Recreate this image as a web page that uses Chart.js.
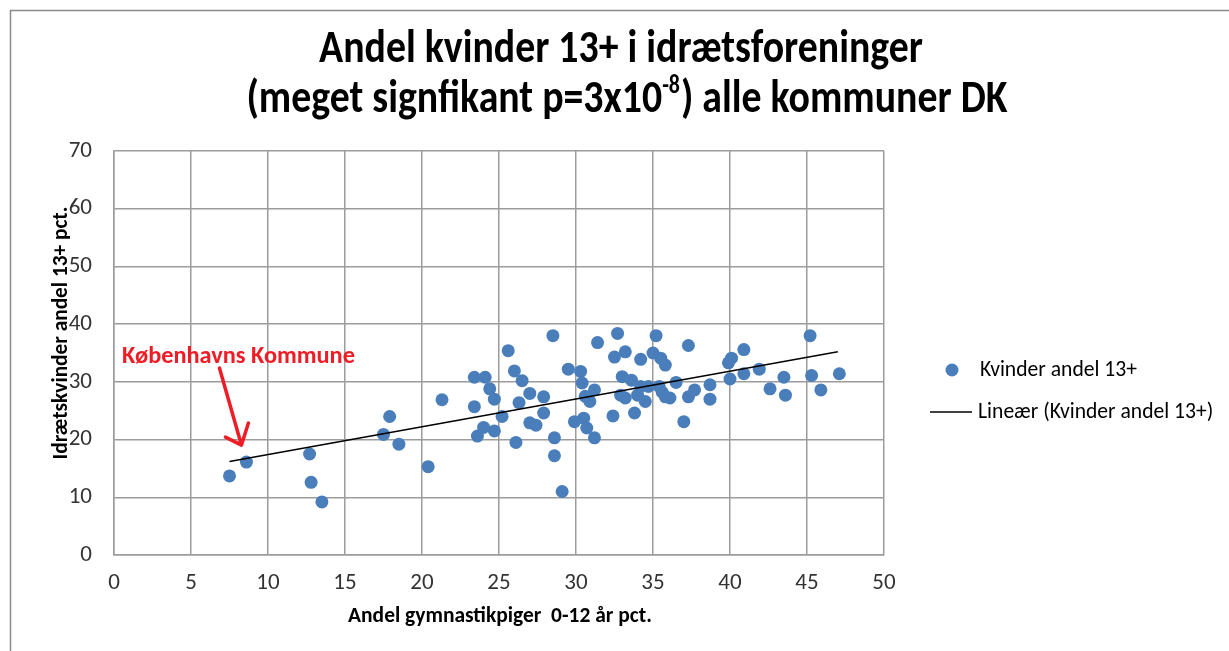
<!DOCTYPE html>
<html>
<head>
<meta charset="utf-8">
<script src="https://cdn.jsdelivr.net/npm/chart.js@4/dist/chart.umd.min.js"></script>
<style>
html,body{margin:0;padding:0;background:#fff;}
#wrap{width:1229px;height:651px;position:relative;}
</style>
</head>
<body>
<div id="wrap"><canvas id="c" width="1229" height="651"></canvas></div>
<script>
// ---- Data ----
const pointsX = [7.5, 8.6, 12.7, 12.8, 13.5, 17.5, 17.9, 18.5, 20.4, 21.3,
  23.4, 24.1, 24.4, 24.7, 23.4, 23.6, 24.0, 24.7, 25.2, 25.6,
  26.0, 26.5, 26.3, 26.1, 27.0, 27.9, 27.0, 27.4, 27.9, 28.5,
  28.6, 28.6, 29.1, 29.5, 30.3, 30.4, 29.9, 30.5, 30.7, 31.2,
  30.6, 31.2, 30.9, 31.4, 32.7, 32.5, 33.2, 34.2, 35.2, 35.0,
  35.5, 35.8, 33.0, 33.6, 32.9, 33.2, 34.0, 34.5, 34.7, 35.4,
  35.8, 36.1, 32.4, 33.8, 36.5, 37.3, 37.3, 37.7, 37.0, 38.7,
  38.7, 39.9, 40.1, 40.0, 40.9, 40.9, 41.9, 42.6, 43.5, 43.6,
  45.2, 45.3, 45.9, 47.1, 35.6, 34.2];
const pointsY = [13.7, 16.1, 17.5, 12.6, 9.2, 20.9, 24.0, 19.2, 15.3, 26.9,
  30.8, 30.8, 28.8, 27.0, 25.7, 20.6, 22.1, 21.5, 24.0, 35.4,
  31.9, 30.2, 26.4, 19.5, 28.0, 27.4, 22.9, 22.5, 24.6, 38.0,
  20.3, 17.2, 11.0, 32.2, 31.8, 29.8, 23.1, 23.7, 22.0, 20.3,
  27.5, 28.6, 26.6, 36.8, 38.4, 34.3, 35.2, 33.9, 38.0, 35.0,
  34.1, 32.9, 30.9, 30.3, 27.7, 27.2, 27.7, 26.6, 29.2, 29.2,
  27.4, 27.2, 24.1, 24.6, 29.9, 36.3, 27.4, 28.6, 23.1, 29.5,
  27.0, 33.3, 34.1, 30.5, 35.6, 31.4, 32.2, 28.8, 30.8, 27.7,
  38.0, 31.1, 28.6, 31.4, 28.2, 29.2];
const trendX = [7.5, 47.0];
const trendY = [16.2, 35.2];
const seriesName = "Kvinder andel 13+";
const trendName = "Lineær (Kvinder andel 13+)";
const titleLine1 = "Andel kvinder 13+ i idrætsforeninger";
const titleLine2 = ["(meget signfikant p=3x10", "-8", ") alle kommuner DK"];
const xTitle = "Andel gymnastikpiger  0-12 år pct.";
const yTitle = "Idrætskvinder andel 13+ pct.";
const noteText = "Københavns Kommune";
const noteIndex = 1; // the Copenhagen point
const xMin = 0, xMax = 50, xStep = 5;
const yMin = 0, yMax = 70, yStep = 10;

// ---- styling ----
const BLUE = "#4a7ebb";
const GRID = "#9c9c9c";
const TITLE_FAM = "Carlito, 'Liberation Sans Narrow', 'Liberation Sans', sans-serif";
const BODY_FAM = "Carlito, 'Liberation Sans', Arial, sans-serif";

function fitSize(ctx, text, weight, family, targetW) {
  ctx.font = weight + " 100px " + family;
  return 100 * targetW / ctx.measureText(text).width;
}

const decorPlugin = {
  id: "decor",
  beforeDraw(chart) {
    const ctx = chart.ctx;
    ctx.save();
    ctx.fillStyle = "#fff";
    ctx.fillRect(0, 0, chart.width, chart.height);
    ctx.strokeStyle = "#8a8a8a";
    ctx.lineWidth = 1.5;
    ctx.strokeRect(10.5, 10.5, chart.width + 20, chart.height + 20);
    ctx.restore();
  },
  afterDraw(chart) {
    const ctx = chart.ctx;
    const xs = chart.scales.x, ys = chart.scales.y;
    ctx.save();
    // title (slightly tall, condensed look)
    const tSize = fitSize(ctx, titleLine1, "bold", TITLE_FAM, 604);
    const big = "bold " + tSize.toFixed(2) + "px " + TITLE_FAM;
    const small = "bold " + (tSize * 0.55).toFixed(2) + "px " + TITLE_FAM;
    ctx.fillStyle = "#000";
    ctx.textBaseline = "alphabetic";
    ctx.save();
    ctx.translate(0, 62);
    ctx.scale(1, 1.15);
    ctx.font = big;
    ctx.textAlign = "center";
    ctx.fillText(titleLine1, 621, 0);
    ctx.restore();
    // second line with superscript
    ctx.font = big;
    const w0 = ctx.measureText(titleLine2[0]).width;
    const w2 = ctx.measureText(titleLine2[2]).width;
    ctx.font = small;
    const w1 = ctx.measureText(titleLine2[1]).width + 1;
    const total = w0 + w1 + w2;
    let sx = 627 - total / 2;
    ctx.save();
    ctx.translate(0, 112);
    ctx.scale(1, 1.15);
    ctx.textAlign = "left";
    ctx.font = big;
    ctx.fillText(titleLine2[0], sx, 0);
    ctx.font = small;
    ctx.fillText(titleLine2[1], sx + w0, -tSize * 0.42);
    ctx.font = big;
    ctx.fillText(titleLine2[2], sx + w0 + w1, 0);
    ctx.restore();

    ctx.textAlign = "center";
    ctx.textBaseline = "middle";
    // axis titles
    const xs2 = fitSize(ctx, xTitle, "bold", BODY_FAM, 304);
    ctx.font = "bold " + xs2.toFixed(2) + "px " + BODY_FAM;
    ctx.fillText(xTitle, 500, 617);
    const ys2 = fitSize(ctx, yTitle, "bold", BODY_FAM, 253);
    ctx.save();
    ctx.translate(62, 333);
    ctx.rotate(-Math.PI / 2);
    ctx.font = "bold " + ys2.toFixed(2) + "px " + BODY_FAM;
    ctx.fillText(yTitle, 0, 0);
    ctx.restore();

    // legend
    ctx.textAlign = "left";
    ctx.fillStyle = BLUE;
    ctx.beginPath();
    ctx.arc(952, 370, 6.5, 0, Math.PI * 2);
    ctx.fill();
    const ls = fitSize(ctx, seriesName, "normal", BODY_FAM, 157);
    ctx.font = ls.toFixed(2) + "px " + BODY_FAM;
    ctx.fillStyle = "#000";
    ctx.fillText(seriesName, 980, 371);
    ctx.strokeStyle = "#000";
    ctx.lineWidth = 1.5;
    ctx.beginPath();
    ctx.moveTo(930, 412);
    ctx.lineTo(972, 412);
    ctx.stroke();
    ctx.fillText(trendName, 978, 413);

    // annotation
    const px = xs.getPixelForValue(pointsX[noteIndex]);
    const py = ys.getPixelForValue(pointsY[noteIndex]);
    const tipX = px - 5, tipY = py - 17;
    ctx.strokeStyle = "#ee1c25";
    ctx.fillStyle = "#ee1c25";
    ctx.lineWidth = 3.5;
    ctx.lineCap = "round";
    ctx.lineJoin = "round";
    ctx.beginPath();
    ctx.moveTo(tipX - 22, tipY - 77);
    ctx.lineTo(tipX, tipY);
    ctx.moveTo(tipX - 16, tipY - 8);
    ctx.lineTo(tipX, tipY);
    ctx.lineTo(tipX + 7, tipY - 22);
    ctx.stroke();
    const ns = fitSize(ctx, noteText, "bold", BODY_FAM, 233);
    ctx.font = "bold " + ns.toFixed(2) + "px " + BODY_FAM;
    ctx.textBaseline = "middle";
    ctx.fillText(noteText, 122, 357);
    ctx.restore();
  }
};

const scatterData = pointsX.map((x, i) => ({ x: x, y: pointsY[i] }));
const trendData = trendX.map((x, i) => ({ x: x, y: trendY[i] }));

new Chart(document.getElementById("c"), {
  type: "scatter",
  data: {
    datasets: [
      {
        label: trendName,
        type: "line",
        data: trendData,
        borderColor: "#000",
        borderWidth: 1.5,
        pointRadius: 0,
        fill: false,
        order: 0
      },
      {
        label: seriesName,
        data: scatterData,
        backgroundColor: BLUE,
        borderWidth: 0,
        pointRadius: 6.5,
        pointHoverRadius: 6.5,
        order: 1
      }
    ]
  },
  options: {
    responsive: false,
    animation: false,
    events: [],
    layout: { padding: { left: 20, top: 151, right: 345, bottom: 36 } },
    plugins: { legend: { display: false }, title: { display: false }, tooltip: { enabled: false } },
    scales: {
      x: {
        type: "linear",
        min: xMin, max: xMax,
        afterFit(s) { s.height = 60; },
        ticks: { stepSize: xStep, padding: 14, color: "#333", font: { family: BODY_FAM, size: 23 } },
        grid: { color: GRID, lineWidth: 1.5, drawTicks: false },
        border: { color: GRID, width: 1.5 }
      },
      y: {
        type: "linear",
        min: yMin, max: yMax,
        afterFit(s) { s.width = 94; },
        ticks: { stepSize: yStep, padding: 22, color: "#333", font: { family: BODY_FAM, size: 23 } },
        grid: { color: GRID, lineWidth: 1.5, drawTicks: false },
        border: { color: GRID, width: 1.5 }
      }
    }
  },
  plugins: [decorPlugin]
});
</script>
</body>
</html>
